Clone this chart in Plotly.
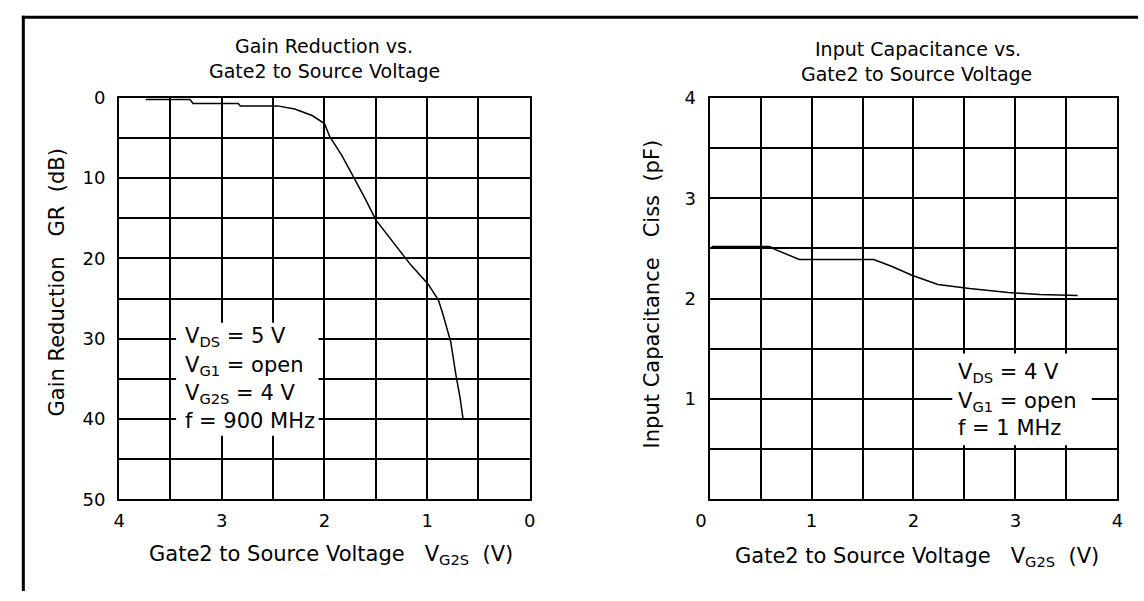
import plotly.graph_objects as go

# ---------------- data ----------------
gr_voltage = [3.74, 3.31, 3.28, 2.84, 2.82, 2.46, 2.29, 2.12, 2.00, 1.95, 1.83,
              1.71, 1.61, 1.50, 1.33, 1.16, 0.99, 0.89, 0.85, 0.77, 0.72, 0.68, 0.65]
gr_db = [0.2, 0.2, 0.7, 0.7, 1.0, 1.0, 1.4, 2.2, 3.2, 4.8, 7.2,
         10.0, 12.4, 15.2, 18.0, 20.8, 23.2, 25.2, 26.8, 30.4, 34.5, 37.3, 40.0]

cap_voltage = [0.02, 0.59, 0.64, 0.88, 1.61, 1.79, 1.99, 2.24, 2.55, 2.93, 3.24, 3.61]
cap_pf = [2.52, 2.52, 2.49, 2.39, 2.39, 2.32, 2.23, 2.14, 2.10, 2.06, 2.04, 2.03]

left_x_vals = [4, 3.5, 3, 2.5, 2, 1.5, 1, 0.5, 0]
left_x_text = ["4", "", "3", "", "2", "", "1", "", "0"]
left_y_vals = [0, 5, 10, 15, 20, 25, 30, 35, 40, 45, 50]
left_y_text = ["0", "", "10", "", "20", "", "30", "", "40", "", "50"]
right_x_vals = [0, 0.5, 1, 1.5, 2, 2.5, 3, 3.5, 4]
right_x_text = ["0\u00a0\u00a0\u00a0", "", "1", "", "2", "", "3", "", "4"]
right_y_vals = [0, 0.5, 1, 1.5, 2, 2.5, 3, 3.5, 4]
right_y_text = ["", "", "1", "", "2", "", "3", "", "4"]

left_title = ["Gain Reduction vs.", "Gate2 to Source Voltage"]
right_title = ["Input Capacitance vs.", "Gate2 to Source Voltage"]
x_title = "Gate2 to Source Voltage\u00a0\u00a0\u00a0V<sub>G2S</sub>\u00a0\u00a0(V)"
left_y_title = "Gain Reduction\u00a0\u00a0\u00a0GR\u00a0\u00a0(dB)"
right_y_title = "Input Capacitance\u00a0\u00a0\u00a0Ciss\u00a0\u00a0(pF)"
left_notes = ["V<sub>DS</sub> = 5 V", "V<sub>G1</sub> = open", "V<sub>G2S</sub> = 4 V", "f = 900 MHz"]
right_notes = ["V<sub>DS</sub> = 4 V", "V<sub>G1</sub> = open", "f = 1 MHz"]

# ---------------- layout helpers ----------------
W, H = 1144, 601
FONT = "DejaVu Sans"


def px(p):
    return p / W


def py(p):
    return 1 - p / H


fig = go.Figure()
fig.add_trace(go.Scatter(x=gr_voltage, y=gr_db, mode="lines",
                         line=dict(color="black", width=1.5),
                         xaxis="x", yaxis="y", showlegend=False, hoverinfo="skip"))
fig.add_trace(go.Scatter(x=cap_voltage, y=cap_pf, mode="lines",
                         line=dict(color="black", width=1.5),
                         xaxis="x2", yaxis="y2", showlegend=False, hoverinfo="skip"))

common = dict(showline=True, linecolor="black", linewidth=2, mirror=True,
              showgrid=True, gridcolor="black", gridwidth=2, zeroline=False,
              ticks="", tickmode="array", fixedrange=True,
              tickfont=dict(family=FONT, size=18, color="black"))

fig.update_layout(
    width=W, height=H, margin=dict(l=0, r=0, t=0, b=0),
    paper_bgcolor="white", plot_bgcolor="white", showlegend=False,
    xaxis=dict(domain=[px(107), px(525)], range=[4, 0], anchor="y",
               tickvals=left_x_vals, ticktext=left_x_text, ticklabelstandoff=4, **common),
    yaxis=dict(domain=[py(506), py(90)], range=[50, 0], anchor="x",
               tickvals=left_y_vals, ticktext=left_y_text, ticklabelstandoff=8, **common),
    xaxis2=dict(domain=[px(708), px(1123)], range=[0, 4], anchor="y2",
                tickvals=right_x_vals, ticktext=right_x_text, ticklabelstandoff=4, **common),
    yaxis2=dict(domain=[py(506), py(90)], range=[0, 4], anchor="x2",
                tickvals=right_y_vals, ticktext=right_y_text, ticklabelstandoff=8, **common),
)

shapes = [
    # outer frame (top and left edges)
    dict(type="line", xref="paper", yref="paper", x0=px(8), x1=px(1144), y0=py(6.5), y1=py(6.5),
         line=dict(color="black", width=3)),
    dict(type="line", xref="paper", yref="paper", x0=px(9.5), x1=px(9.5), y0=py(5), y1=py(601),
         line=dict(color="black", width=3)),
    # white boxes behind condition notes
    dict(type="rect", xref="paper", yref="paper", x0=px(165), x1=px(310), y0=py(440), y1=py(323),
         fillcolor="white", line=dict(width=0), layer="above"),
    dict(type="rect", xref="paper", yref="paper", x0=px(955), x1=px(1097), y0=py(450), y1=py(355),
         fillcolor="white", line=dict(width=0), layer="above"),
]
fig.update_layout(shapes=shapes)

ann = []


def add_text(text, x, y, size, xanchor="center", angle=0):
    ann.append(dict(text=text, x=px(x), y=py(y), xref="paper", yref="paper",
                    xanchor=xanchor, yanchor="middle", showarrow=False, textangle=angle,
                    font=dict(family=FONT, size=size, color="black")))


add_text(left_title[0], 316, 36, 19)
add_text(left_title[1], 316, 62, 19)
add_text(right_title[0], 920, 39, 19)
add_text(right_title[1], 919, 65, 19)
add_text(x_title, 323, 564, 21)
add_text(x_title, 919, 566, 21)
add_text(left_y_title, 44, 281, 21, angle=-90)
add_text(right_y_title, 649, 293, 21, angle=-90)

for t, yy in zip(left_notes, [338, 368, 397, 425]):
    add_text(t, 172, yy, 21, xanchor="left")
for t, yy in zip(right_notes, [375, 405, 432]):
    add_text(t, 959, yy, 21, xanchor="left")

fig.update_layout(annotations=ann)
fig.write_html("out.html", config={"displayModeBar": False},
               post_script="document.body.style.margin='0px';")
